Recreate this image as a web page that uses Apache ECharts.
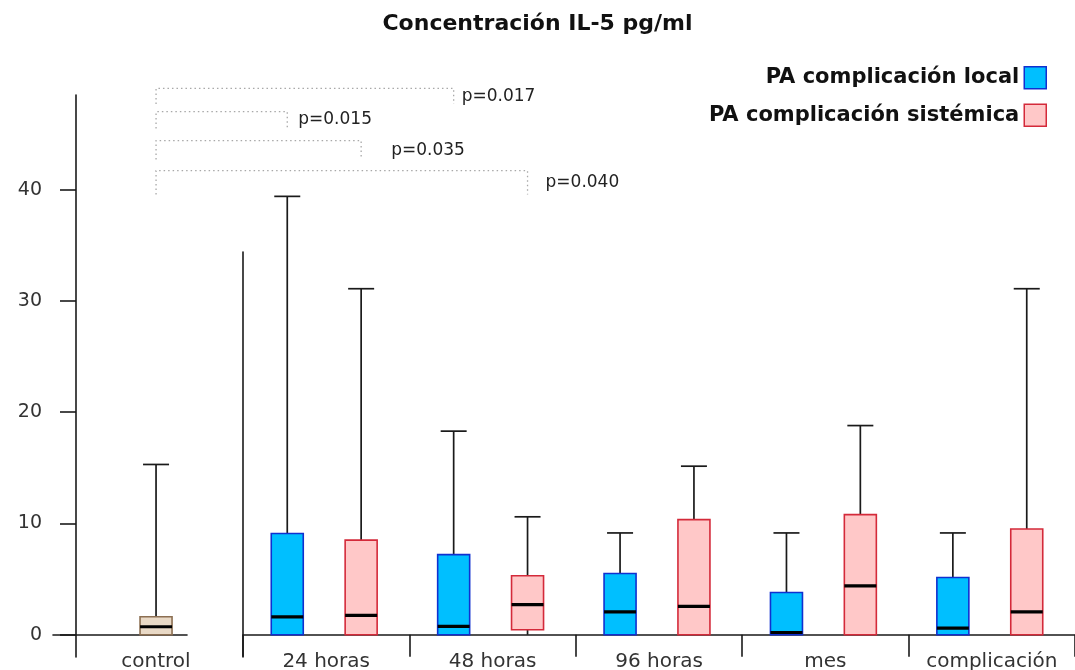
<!DOCTYPE html>
<html>
<head>
<meta charset="utf-8">
<script src="https://cdn.jsdelivr.net/npm/echarts@6/dist/echarts.min.js"></script>
<style>
  html, body { margin: 0; padding: 0; background: #fff; }
  #chart { width: 1075px; height: 670px; }
</style>
</head>
<body>
<div id="chart"></div>
<script>
// ---- data ----
const chartTitle = 'Concentración IL-5 pg/ml';
const controlCategories = ['control'];
const timeCategories = ['24 horas', '48 horas', '96 horas', 'mes', 'complicación'];
const yTickValues = [0, 10, 20, 30, 40];
const seriesNames = ['PA complicación local', 'PA complicación sistémica'];

// each box: [min, q1, median, q3, max]
const controlBoxes = [
  [0, 0, 0.72, 1.62, 15.3]
];
const localBoxes = [
  [0, 0, 1.6, 9.1, 39.4],
  [0, 0, 0.75, 7.2, 18.3],
  [0, 0, 2.05, 5.5, 9.15],
  [0, 0, 0.2, 3.8, 9.15],
  [0, 0, 0.6, 5.15, 9.15]
];
const systemicBoxes = [
  [0, 0, 1.75, 8.5, 31.1],
  [0, 0.45, 2.7, 5.3, 10.6],
  [0, 0, 2.55, 10.35, 15.15],
  [0, 0, 4.4, 10.8, 18.8],
  [0, 0, 2.05, 9.5, 31.1]
];

// significance brackets: control vs. a group of the right panel
const pLabels = ['p=0.017', 'p=0.015', 'p=0.035', 'p=0.040'];
const pTargetCategory = [1, 0, 0, 1];
const pTargetSeries = [0, 0, 1, 1];
const pBarLevel = [49.1, 47.0, 44.4, 41.7];
const pDropLevel = [47.7, 45.5, 42.7, 39.55];

// ---- layout & style ----
const FONT = 'DejaVu Sans';
const INK = '#1a1a1a';
const BOX_W = 32;
const CAP_W = 26;
const LEFT_GRID = { left: 53, width: 134, top: 95, bottom: 13 };
const RIGHT_GRID = { left: 243, right: 0, top: 252, bottom: 13 };
const SHIFT = { control: 0.269, local: -0.234, systemic: 0.21 };
const LABEL_DX = [8, 11, 30, 18];
const STYLE = {
  control: { fill: '#e9d9c6', stroke: '#8c6f52' },
  local: { fill: '#00bfff', stroke: '#1030d0' },
  systemic: { fill: '#ffc8c8', stroke: '#d42a3a' }
};

function boxRenderer(look, shiftFrac) {
  return function (params, api) {
    const cat = api.value(0);
    const band = api.size([1, 0])[0];
    const x = api.coord([cat, 0])[0] + band * shiftFrac;
    const py = (dim) => api.coord([cat, api.value(dim)])[1];
    const yMin = py(1), yQ1 = py(2), yMed = py(3), yQ3 = py(4), yMax = py(5);
    const hw = BOX_W / 2, cw = CAP_W / 2;
    const ink = { stroke: INK, lineWidth: 1.7 };
    const children = [
      { type: 'line', shape: { x1: x, y1: yQ3, x2: x, y2: yMax }, style: ink },
      { type: 'line', shape: { x1: x - cw, y1: yMax, x2: x + cw, y2: yMax }, style: ink }
    ];
    if (yMin - yQ1 > 0.5) {
      children.push({ type: 'line', shape: { x1: x, y1: yQ1, x2: x, y2: yMin }, style: ink });
    }
    children.push({
      type: 'rect',
      shape: { x: x - hw, y: yQ3, width: BOX_W, height: yQ1 - yQ3 },
      style: { fill: look.fill, stroke: look.stroke, lineWidth: 1.6 }
    });
    children.push({
      type: 'line',
      shape: { x1: x - hw, y1: yMed, x2: x + hw, y2: yMed },
      style: { stroke: '#000', lineWidth: 3.2 }
    });
    return { type: 'group', children: children };
  };
}

const toRows = (boxes) => boxes.map((b, i) => [i].concat(b));

const axisInk = { color: INK, width: 1.6 };
// category labels sit just under the zero line (the axes run slightly below zero)
const catLabel = { fontFamily: FONT, fontSize: 20, color: '#333', margin: -5 };

const option = {
  animation: false,
  backgroundColor: '#ffffff',
  title: {
    text: chartTitle,
    left: 'center',
    top: 8,
    textStyle: { fontFamily: FONT, fontSize: 22, fontWeight: 'bold', color: '#111' }
  },
  legend: {
    orient: 'vertical',
    right: 23,
    top: 61,
    align: 'right',
    itemWidth: 22,
    itemHeight: 22,
    itemGap: 14,
    icon: 'rect',
    textStyle: { fontFamily: FONT, fontSize: 21, fontWeight: 'bold', color: '#111' },
    data: [
      { name: seriesNames[0], itemStyle: { color: STYLE.local.fill, borderColor: STYLE.local.stroke, borderWidth: 1.5 } },
      { name: seriesNames[1], itemStyle: { color: STYLE.systemic.fill, borderColor: STYLE.systemic.stroke, borderWidth: 1.5 } }
    ]
  },
  grid: [
    Object.assign({ containLabel: false, outerBoundsMode: 'none' }, LEFT_GRID),
    Object.assign({ containLabel: false, outerBoundsMode: 'none' }, RIGHT_GRID)
  ],
  xAxis: [
    {
      gridIndex: 0,
      type: 'category',
      data: controlCategories,
      axisLine: { onZero: true, lineStyle: axisInk },
      axisTick: { show: false },
      axisLabel: Object.assign({ padding: [0, 0, 0, 72] }, catLabel),
      splitLine: { show: false }
    },
    {
      gridIndex: 1,
      type: 'category',
      data: timeCategories,
      axisLine: { onZero: true, lineStyle: axisInk },
      axisTick: { show: true, length: 22, interval: 0, lineStyle: axisInk },
      axisLabel: Object.assign({ interval: 0 }, catLabel),
      splitLine: { show: false }
    }
  ],
  yAxis: [
    {
      gridIndex: 0,
      type: 'value',
      min: -2,
      max: 48.5,
      offset: -23,
      axisLine: { show: true, lineStyle: axisInk },
      axisTick: { show: true, length: 16, customValues: yTickValues, lineStyle: axisInk },
      axisLabel: { customValues: yTickValues, margin: 34, fontFamily: FONT, fontSize: 19, color: '#333' },
      splitLine: { show: false }
    },
    {
      gridIndex: 1,
      type: 'value',
      min: -2,
      max: 34.4,
      axisLine: { show: true, lineStyle: axisInk },
      axisTick: { show: false },
      axisLabel: { show: false },
      splitLine: { show: false }
    }
  ],
  series: [
    {
      name: 'control',
      type: 'custom',
      xAxisIndex: 0,
      yAxisIndex: 0,
      renderItem: boxRenderer(STYLE.control, SHIFT.control),
      encode: { x: 0, y: [1, 2, 3, 4, 5] },
      data: toRows(controlBoxes),
      z: 1
    },
    {
      name: seriesNames[0],
      type: 'custom',
      xAxisIndex: 1,
      yAxisIndex: 1,
      itemStyle: { color: STYLE.local.fill },
      renderItem: boxRenderer(STYLE.local, SHIFT.local),
      encode: { x: 0, y: [1, 2, 3, 4, 5] },
      data: toRows(localBoxes),
      z: 1
    },
    {
      name: seriesNames[1],
      type: 'custom',
      xAxisIndex: 1,
      yAxisIndex: 1,
      itemStyle: { color: STYLE.systemic.fill },
      renderItem: boxRenderer(STYLE.systemic, SHIFT.systemic),
      encode: { x: 0, y: [1, 2, 3, 4, 5] },
      data: toRows(systemicBoxes),
      z: 1
    }
  ]
};

const chart = echarts.init(document.getElementById('chart'), null, { renderer: 'canvas' });
chart.setOption(option);

// dotted significance brackets from the control box to the compared groups
(function drawBrackets() {
  const shiftBySeries = [SHIFT.local, SHIFT.systemic];
  const bandRight = chart.convertToPixel({ xAxisIndex: 1 }, 1) - chart.convertToPixel({ xAxisIndex: 1 }, 0);
  const ctrlX = chart.convertToPixel({ xAxisIndex: 0 }, 0) + LEFT_GRID.width * SHIFT.control;
  const elements = [];
  pLabels.forEach(function (label, i) {
    const tx = chart.convertToPixel({ xAxisIndex: 1 }, pTargetCategory[i]) + bandRight * shiftBySeries[pTargetSeries[i]];
    const yBar = chart.convertToPixel({ yAxisIndex: 0 }, pBarLevel[i]);
    const yDrop = chart.convertToPixel({ yAxisIndex: 0 }, pDropLevel[i]);
    elements.push({
      type: 'polyline',
      shape: { points: [[ctrlX, yDrop], [ctrlX, yBar], [tx, yBar], [tx, yDrop]] },
      style: { stroke: '#a8a8a8', lineWidth: 1.3, lineDash: [1.5, 3], fill: null },
      silent: true
    });
    elements.push({
      type: 'text',
      x: tx + LABEL_DX[i],
      y: (yBar + yDrop) / 2,
      style: {
        text: label,
        font: '17px "' + FONT + '"',
        fill: '#222',
        textVerticalAlign: 'middle',
        textAlign: 'left'
      },
      silent: true
    });
  });
  chart.setOption({ graphic: elements });
})();
</script>
</body>
</html>
